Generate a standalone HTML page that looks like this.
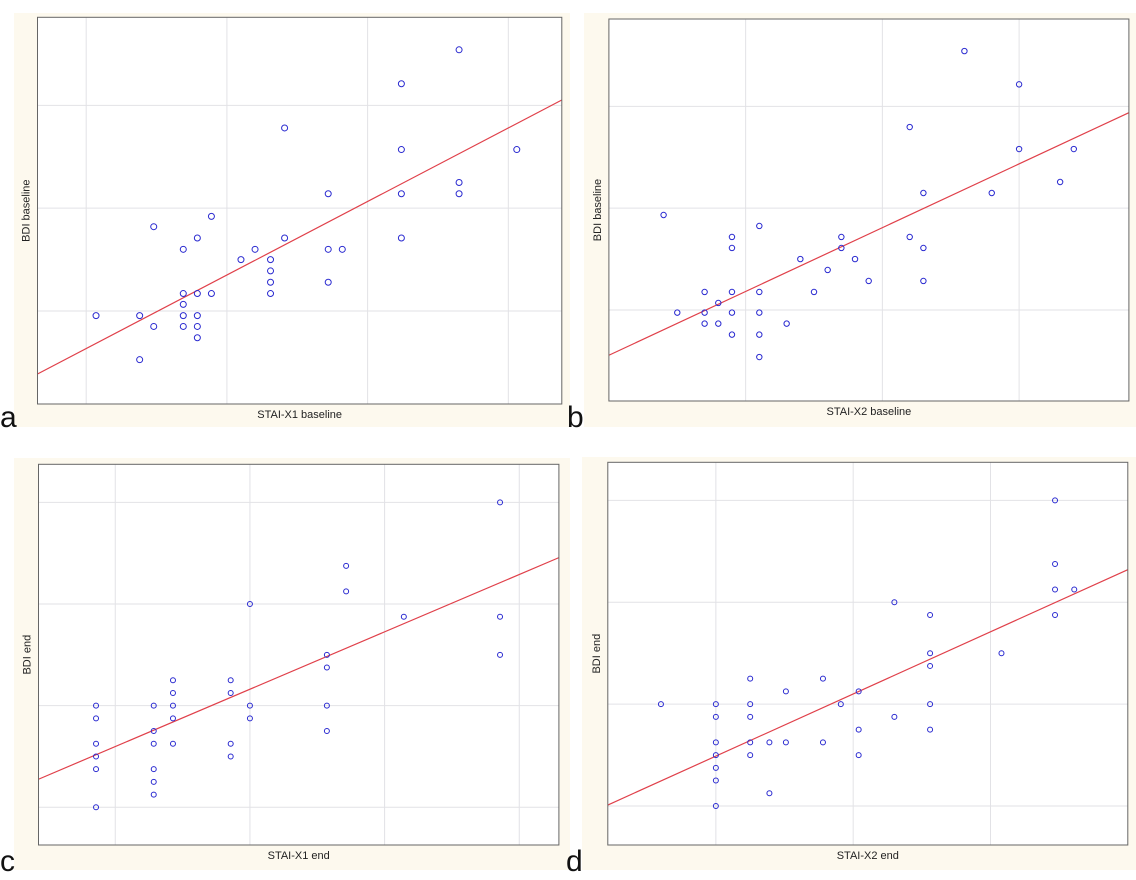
<!DOCTYPE html>
<html><head><meta charset="utf-8">
<style>
body{margin:0;background:#fff;width:1136px;height:880px;overflow:hidden;font-family:"Liberation Sans",Arial,sans-serif}
svg{display:block}
</style></head>
<body>
<svg id="fig" width="1136" height="880" xmlns="http://www.w3.org/2000/svg">
<rect width="1136" height="880" fill="#fff"/>
</svg>
<script>
// Panel a: STAI-X1 baseline vs BDI baseline
const aX=[30.7,33.8,33.8,34.8,34.8,36.9,36.9,36.9,36.9,36.9,37.9,37.9,37.9,37.9,37.9,38.9,38.9,41.0,42.0,43.1,43.1,43.1,43.1,44.1,44.1,47.2,47.2,48.2,47.2,52.4,52.4,52.4,52.4,56.5,56.5,56.5,60.6];
const aY=[9.55,9.55,5.27,8.5,18.2,16.0,11.7,10.65,9.55,8.5,17.1,11.7,9.55,8.5,7.4,19.2,11.7,15.0,16.0,15.0,13.9,12.8,11.7,27.8,17.1,21.4,16.0,16.0,12.8,32.1,25.7,21.4,17.1,35.4,22.5,21.4,25.7];
const aFit=[-15.1,0.715];
const aXGrid=[30,40,50,60];
const aYGrid=[10,20,30];
// Panel b: STAI-X2 baseline vs BDI baseline
const bX=[24,25,27,27,27,28,28,29,29,29,29,29,31,31,31,31,31,33,34,35,36,37,37,38,39,42,42,43,43,43,46,48,50,50,53,54];
const bY=[19.33,9.74,11.77,9.74,8.66,10.69,8.66,17.17,16.09,11.77,9.74,7.58,18.25,11.77,9.74,7.58,5.38,8.66,15.0,11.77,13.93,17.17,16.09,15.0,12.85,27.97,17.17,21.49,16.09,12.85,35.43,21.49,32.16,25.81,22.57,25.81];
const bFit=[-6.98,0.6266];
const bXGrid=[30,40,50];
const bYGrid=[10,20,30];
// Panel c: STAI-X1 end vs BDI end
const cX=[29,29,29,29,29,29,32,32,32,32,32,32,33,33,33,33,33,36,36,36,36,37,37,37,41,41,41,41,42,42,45,50,50,50];
const cY=[8,7,5,4,3,0,8,6,5,3,2,1,10,9,8,7,5,10,9,5,4,16,8,7,12,11,8,6,19,17,15,24,15,12];
const cFit=[-14.57,0.645];
const cXGrid=[30,37,44,51];
const cYGrid=[0,8,16,24];
// Panel d: STAI-X2 end vs BDI end
const dX=[26.0,30,30,30,30,30,30,30,32.5,32.5,32.5,32.5,32.5,33.9,33.9,35.1,35.1,37.8,37.8,39.1,40.4,40.4,40.4,43.0,43.0,45.6,45.6,45.6,45.6,45.6,50.8,54.7,54.7,54.7,54.7,56.1];
const dY=[8,8,7,5,4,3,2,0,10,8,7,5,4,5,1,9,5,10,5,8,9,6,4,16,7,15,12,11,8,6,12,24,19,17,15,17];
const dFit=[-10.72,0.488];
const dXGrid=[30,40,50];
const dYGrid=[0,8,16,24];

const NS='http://www.w3.org/2000/svg';
const svg=document.getElementById('fig');
function mk(tag,attrs,parent){const e=document.createElementNS(NS,tag);for(const k in attrs)e.setAttribute(k,attrs[k]);(parent||svg).appendChild(e);return e;}

const panels=[
 {id:'a',X:aX,Y:aY,fit:aFit,xg:aXGrid,yg:aYGrid,box:[37.5,17.3,561.8,404],dom:[26.54,63.8,0.96,38.56],bg:[14,13,556,414],xt:'STAI-X1 baseline',yt:'BDI baseline',lx:0,ly:427,r:3},
 {id:'b',X:bX,Y:bY,fit:bFit,xg:bXGrid,yg:bYGrid,box:[608.9,19,1128.9,401],dom:[20.0,58.03,1.06,38.58],bg:[584,13,552,414],xt:'STAI-X2 baseline',yt:'BDI baseline',lx:567,ly:427,r:2.7},
 {id:'c',X:cX,Y:cY,fit:cFit,xg:cXGrid,yg:cYGrid,box:[38.5,464.3,558.9,845],dom:[26.01,53.06,-2.97,27.0],bg:[14,458,556,412],xt:'STAI-X1 end',yt:'BDI end',lx:0,ly:871,r:2.5},
 {id:'d',X:dX,Y:dY,fit:dFit,xg:dXGrid,yg:dYGrid,box:[607.8,462.3,1127.8,845],dom:[22.13,60.0,-3.06,26.99],bg:[582,457,554,413],xt:'STAI-X2 end',yt:'BDI end',lx:566,ly:871,r:2.5}
];

panels.forEach(p=>{
  const g=mk('g',{});
  
  
  const bg=mk('rect',{x:p.bg[0],y:p.bg[1],width:p.bg[2],height:p.bg[3],fill:'#fdf9ee'},g);
  
  
  const [x0,y0,x1,y1]=p.box;
  const [dx0,dx1,dy0,dy1]=p.dom;
  const sx=v=>x0+(v-dx0)/(dx1-dx0)*(x1-x0);
  const sy=v=>y1-(v-dy0)/(dy1-dy0)*(y1-y0);
  const plot=mk('rect',{x:x0,y:y0,width:x1-x0,height:y1-y0,fill:'#fff'},g);
  
  
  p.xg.forEach(v=>{
    const l=mk('line',{x1:sx(v),x2:sx(v),y1:y0,y2:y1,stroke:'#e2e2e6','stroke-width':1},g);
    
    
  });
  p.yg.forEach(v=>{
    const l=mk('line',{x1:x0,x2:x1,y1:sy(v),y2:sy(v),stroke:'#e2e2e6','stroke-width':1},g);
    
    
  });
  // regression line
  const fl=mk('line',{x1:sx(dx0),y1:sy(p.fit[0]+p.fit[1]*dx0),x2:sx(dx1),y2:sy(p.fit[0]+p.fit[1]*dx1),stroke:'#e0404a','stroke-width':1.2},g);
  
  
  p.X.forEach((xv,i)=>{
    const c=mk('circle',{cx:sx(xv),cy:sy(p.Y[i]),r:p.r,fill:'none',stroke:'#2a2ad0','stroke-width':1},g);
    
    
  });
  const border=mk('rect',{x:x0,y:y0,width:x1-x0,height:y1-y0,fill:'none',stroke:'#666','stroke-width':1},g);
  
  
  const xt=mk('text',{x:(x0+x1)/2,y:y1+14,'text-anchor':'middle','font-size':11,fill:'#222'},g);
  xt.textContent=p.xt;
  
  
  const ym=(y0+y1)/2;
  const yt=mk('text',{x:x0-8,y:ym,'text-anchor':'middle','font-size':11,fill:'#222',transform:`rotate(-90 ${x0-8} ${ym})`},g);
  yt.textContent=p.yt;
  
  
  const lt=mk('text',{x:p.lx,y:p.ly,'font-size':30,fill:'#111'},g);
  lt.textContent=p.id;
  
  
});
</script>
</body></html>
